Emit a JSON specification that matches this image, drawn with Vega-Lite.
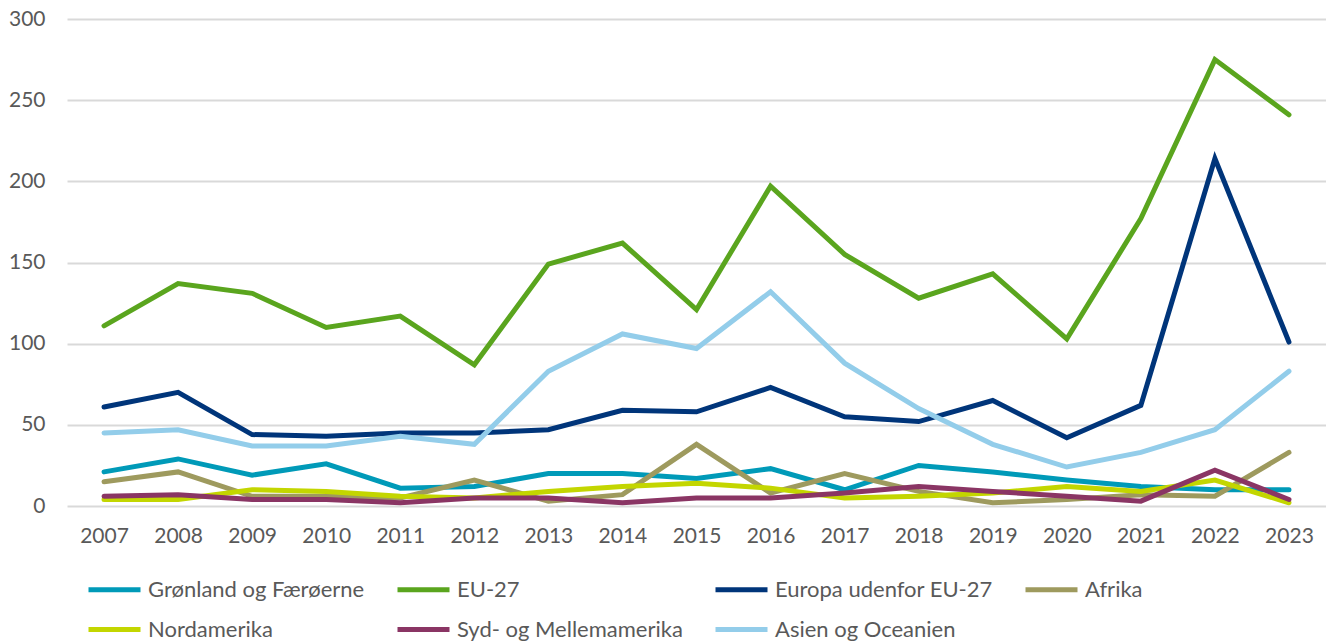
{
  "$schema": "https://vega.github.io/schema/vega-lite/v6.json",
  "autosize": {"type": "none"},
  "padding": {"left": 67, "top": 19, "right": 0, "bottom": 135},
  "width": 1259,
  "height": 487,
  "background": "white",
  "config": {
    "view": {"stroke": null},
    "font": "Lato",
    "axis": {"labelFont": "Lato", "labelColor": "#595959", "labelFontSize": 21},
    "legend": {"labelFont": "Lato", "labelColor": "#595959", "labelFontSize": 22}
  },
  "data": {"values": [
    {"year":"2007","serie":"Grønland og Færøerne","value":21},
    {"year":"2008","serie":"Grønland og Færøerne","value":29},
    {"year":"2009","serie":"Grønland og Færøerne","value":19},
    {"year":"2010","serie":"Grønland og Færøerne","value":26},
    {"year":"2011","serie":"Grønland og Færøerne","value":11},
    {"year":"2012","serie":"Grønland og Færøerne","value":12},
    {"year":"2013","serie":"Grønland og Færøerne","value":20},
    {"year":"2014","serie":"Grønland og Færøerne","value":20},
    {"year":"2015","serie":"Grønland og Færøerne","value":17},
    {"year":"2016","serie":"Grønland og Færøerne","value":23},
    {"year":"2017","serie":"Grønland og Færøerne","value":10},
    {"year":"2018","serie":"Grønland og Færøerne","value":25},
    {"year":"2019","serie":"Grønland og Færøerne","value":21},
    {"year":"2020","serie":"Grønland og Færøerne","value":16},
    {"year":"2021","serie":"Grønland og Færøerne","value":12},
    {"year":"2022","serie":"Grønland og Færøerne","value":10},
    {"year":"2023","serie":"Grønland og Færøerne","value":10},
    {"year":"2007","serie":"EU-27","value":111},
    {"year":"2008","serie":"EU-27","value":137},
    {"year":"2009","serie":"EU-27","value":131},
    {"year":"2010","serie":"EU-27","value":110},
    {"year":"2011","serie":"EU-27","value":117},
    {"year":"2012","serie":"EU-27","value":87},
    {"year":"2013","serie":"EU-27","value":149},
    {"year":"2014","serie":"EU-27","value":162},
    {"year":"2015","serie":"EU-27","value":121},
    {"year":"2016","serie":"EU-27","value":197},
    {"year":"2017","serie":"EU-27","value":155},
    {"year":"2018","serie":"EU-27","value":128},
    {"year":"2019","serie":"EU-27","value":143},
    {"year":"2020","serie":"EU-27","value":103},
    {"year":"2021","serie":"EU-27","value":177},
    {"year":"2022","serie":"EU-27","value":275},
    {"year":"2023","serie":"EU-27","value":241},
    {"year":"2007","serie":"Europa udenfor EU-27","value":61},
    {"year":"2008","serie":"Europa udenfor EU-27","value":70},
    {"year":"2009","serie":"Europa udenfor EU-27","value":44},
    {"year":"2010","serie":"Europa udenfor EU-27","value":43},
    {"year":"2011","serie":"Europa udenfor EU-27","value":45},
    {"year":"2012","serie":"Europa udenfor EU-27","value":45},
    {"year":"2013","serie":"Europa udenfor EU-27","value":47},
    {"year":"2014","serie":"Europa udenfor EU-27","value":59},
    {"year":"2015","serie":"Europa udenfor EU-27","value":58},
    {"year":"2016","serie":"Europa udenfor EU-27","value":73},
    {"year":"2017","serie":"Europa udenfor EU-27","value":55},
    {"year":"2018","serie":"Europa udenfor EU-27","value":52},
    {"year":"2019","serie":"Europa udenfor EU-27","value":65},
    {"year":"2020","serie":"Europa udenfor EU-27","value":42},
    {"year":"2021","serie":"Europa udenfor EU-27","value":62},
    {"year":"2022","serie":"Europa udenfor EU-27","value":214},
    {"year":"2023","serie":"Europa udenfor EU-27","value":101},
    {"year":"2007","serie":"Afrika","value":15},
    {"year":"2008","serie":"Afrika","value":21},
    {"year":"2009","serie":"Afrika","value":6},
    {"year":"2010","serie":"Afrika","value":6},
    {"year":"2011","serie":"Afrika","value":5},
    {"year":"2012","serie":"Afrika","value":16},
    {"year":"2013","serie":"Afrika","value":3},
    {"year":"2014","serie":"Afrika","value":7},
    {"year":"2015","serie":"Afrika","value":38},
    {"year":"2016","serie":"Afrika","value":8},
    {"year":"2017","serie":"Afrika","value":20},
    {"year":"2018","serie":"Afrika","value":9},
    {"year":"2019","serie":"Afrika","value":2},
    {"year":"2020","serie":"Afrika","value":4},
    {"year":"2021","serie":"Afrika","value":7},
    {"year":"2022","serie":"Afrika","value":6},
    {"year":"2023","serie":"Afrika","value":33},
    {"year":"2007","serie":"Nordamerika","value":4},
    {"year":"2008","serie":"Nordamerika","value":4},
    {"year":"2009","serie":"Nordamerika","value":10},
    {"year":"2010","serie":"Nordamerika","value":9},
    {"year":"2011","serie":"Nordamerika","value":6},
    {"year":"2012","serie":"Nordamerika","value":5},
    {"year":"2013","serie":"Nordamerika","value":9},
    {"year":"2014","serie":"Nordamerika","value":12},
    {"year":"2015","serie":"Nordamerika","value":14},
    {"year":"2016","serie":"Nordamerika","value":11},
    {"year":"2017","serie":"Nordamerika","value":5},
    {"year":"2018","serie":"Nordamerika","value":6},
    {"year":"2019","serie":"Nordamerika","value":8},
    {"year":"2020","serie":"Nordamerika","value":12},
    {"year":"2021","serie":"Nordamerika","value":9},
    {"year":"2022","serie":"Nordamerika","value":16},
    {"year":"2023","serie":"Nordamerika","value":2},
    {"year":"2007","serie":"Syd- og Mellemamerika","value":6},
    {"year":"2008","serie":"Syd- og Mellemamerika","value":7},
    {"year":"2009","serie":"Syd- og Mellemamerika","value":4},
    {"year":"2010","serie":"Syd- og Mellemamerika","value":4},
    {"year":"2011","serie":"Syd- og Mellemamerika","value":2},
    {"year":"2012","serie":"Syd- og Mellemamerika","value":5},
    {"year":"2013","serie":"Syd- og Mellemamerika","value":5},
    {"year":"2014","serie":"Syd- og Mellemamerika","value":2},
    {"year":"2015","serie":"Syd- og Mellemamerika","value":5},
    {"year":"2016","serie":"Syd- og Mellemamerika","value":5},
    {"year":"2017","serie":"Syd- og Mellemamerika","value":8},
    {"year":"2018","serie":"Syd- og Mellemamerika","value":12},
    {"year":"2019","serie":"Syd- og Mellemamerika","value":9},
    {"year":"2020","serie":"Syd- og Mellemamerika","value":6},
    {"year":"2021","serie":"Syd- og Mellemamerika","value":3},
    {"year":"2022","serie":"Syd- og Mellemamerika","value":22},
    {"year":"2023","serie":"Syd- og Mellemamerika","value":4},
    {"year":"2007","serie":"Asien og Oceanien","value":45},
    {"year":"2008","serie":"Asien og Oceanien","value":47},
    {"year":"2009","serie":"Asien og Oceanien","value":37},
    {"year":"2010","serie":"Asien og Oceanien","value":37},
    {"year":"2011","serie":"Asien og Oceanien","value":43},
    {"year":"2012","serie":"Asien og Oceanien","value":38},
    {"year":"2013","serie":"Asien og Oceanien","value":83},
    {"year":"2014","serie":"Asien og Oceanien","value":106},
    {"year":"2015","serie":"Asien og Oceanien","value":97},
    {"year":"2016","serie":"Asien og Oceanien","value":132},
    {"year":"2017","serie":"Asien og Oceanien","value":88},
    {"year":"2018","serie":"Asien og Oceanien","value":60},
    {"year":"2019","serie":"Asien og Oceanien","value":38},
    {"year":"2020","serie":"Asien og Oceanien","value":24},
    {"year":"2021","serie":"Asien og Oceanien","value":33},
    {"year":"2022","serie":"Asien og Oceanien","value":47},
    {"year":"2023","serie":"Asien og Oceanien","value":83}
  ]},
  "mark": {"type": "line", "strokeWidth": 5, "strokeCap": "round"},
  "encoding": {
    "x": {
      "field": "year", "type": "ordinal",
      "scale": {"type": "point", "padding": 0.5},
      "axis": {"title": null, "labelAngle": 0, "domain": false, "ticks": false, "labelPadding": 19, "grid": false}
    },
    "y": {
      "field": "value", "type": "quantitative",
      "scale": {"domain": [0, 300], "nice": false},
      "axis": {"title": null, "values": [0, 50, 100, 150, 200, 250, 300], "domain": false, "ticks": false, "labelPadding": 22, "gridColor": "#d9d9d9", "gridWidth": 2}
    },
    "color": {
      "field": "serie", "type": "nominal",
      "scale": {
        "domain": ["Grønland og Færøerne", "EU-27", "Europa udenfor EU-27", "Afrika", "Nordamerika", "Syd- og Mellemamerika", "Asien og Oceanien"],
        "range": ["#009AB8", "#5AA51E", "#00357A", "#9E9A5E", "#C3D600", "#8A3564", "#93CDEA"]
      },
      "legend": {
        "title": null, "orient": "none", "legendX": 19, "legendY": 542,
        "direction": "horizontal", "columns": 4, "columnPadding": 22, "rowPadding": -10,
        "symbolType": "stroke", "symbolSize": 2704, "symbolStrokeWidth": 5, "labelOffset": 5, "labelLimit": 400
      }
    }
  }
}
